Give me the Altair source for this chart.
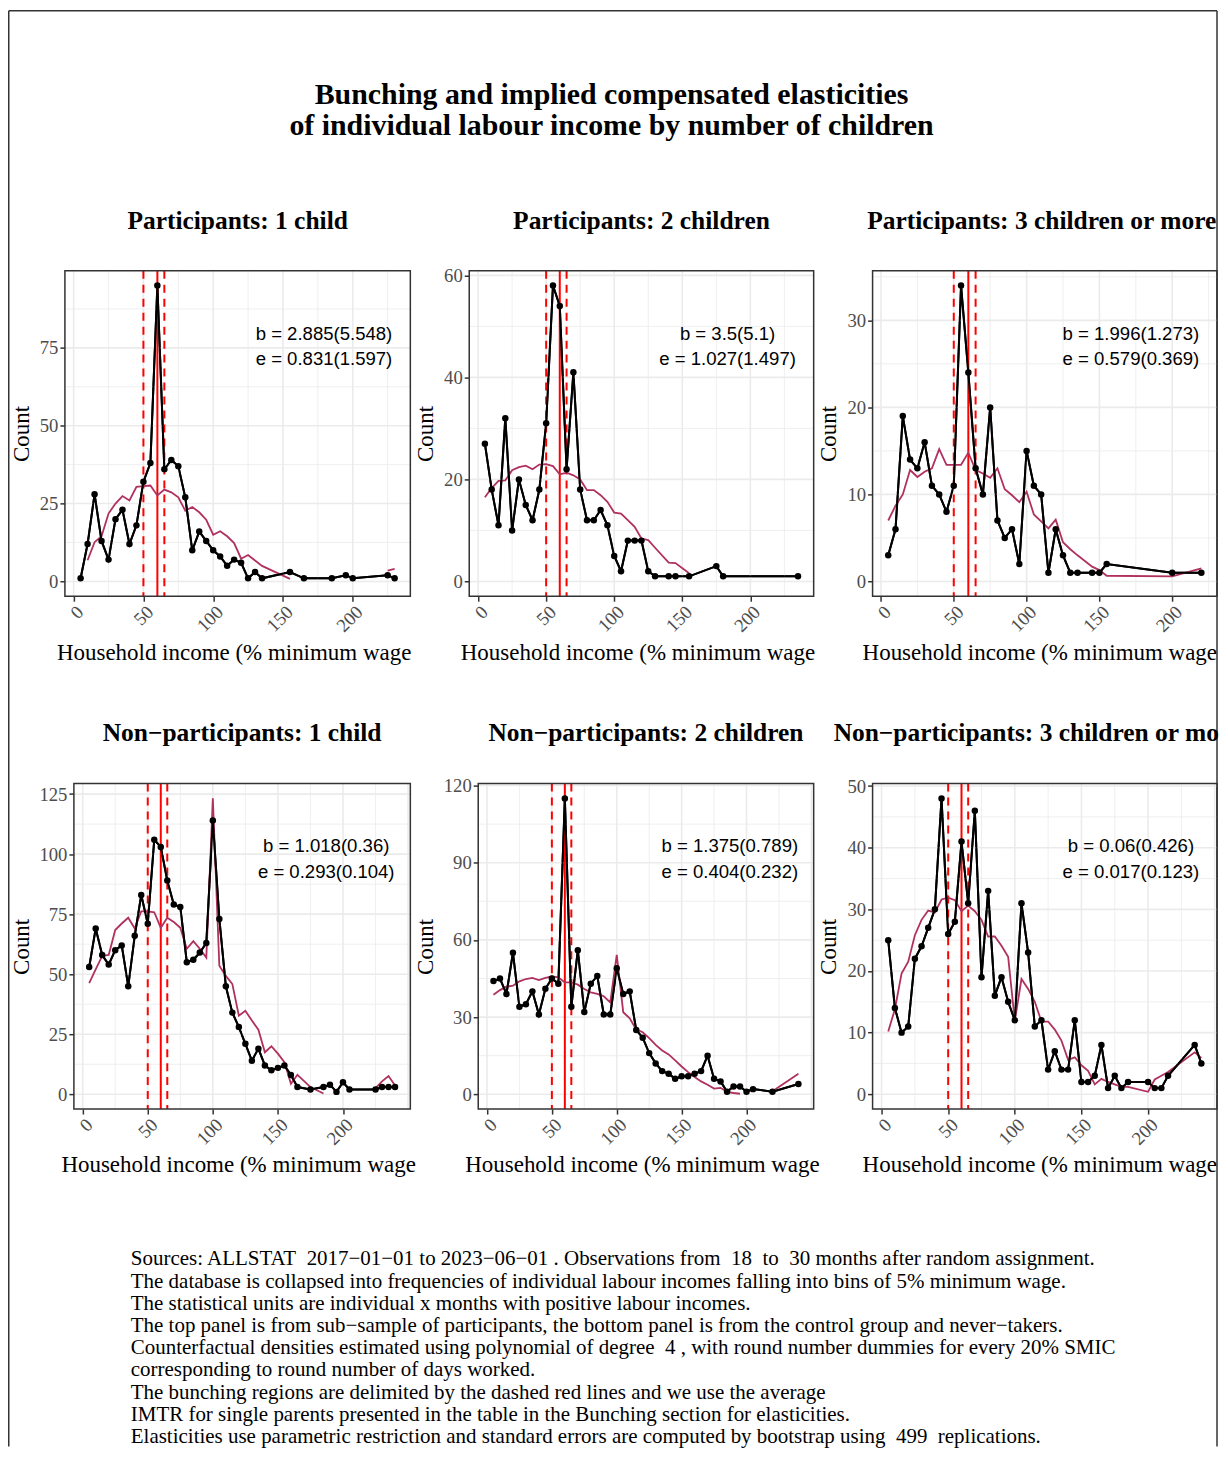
import altair as alt
import pandas as pd

SERIF = "Liberation Serif"
SANS = "Liberation Sans"

# ---------------- data ----------------
# Participants: 1 child
x1 = [5, 10, 15, 20, 25, 30, 35, 40, 45, 50, 55, 60, 65, 70, 75, 80, 85, 90, 95, 100,
      105, 110, 115, 120, 125, 130, 135, 155, 165, 185, 195, 200, 225, 230]
y1 = [1, 12, 28, 13, 7, 20, 23, 12, 18, 32, 38, 95, 36, 39, 37, 27, 10, 16, 13, 10,
      8, 5, 7, 6, 1, 3, 1, 3, 1, 1, 2, 1, 2, 1]
cf1 = [None, 6.8, 12.6, 14.5, 21.8, 25.0, 27.4, 26.0, 30.4, 30.6, 30.8, 27.6, 29.5, 28.6, 27.0, 22.7, 23.9, 22.2, 19.8, 15.0,
       16.1, 14.5, 12.3, 7.3, 8.5, 6.7, 5.0, 0.8, None, None, None, None, 3.5, 4.0]

# Participants: 2 children
x2 = [5, 10, 15, 20, 25, 30, 35, 40, 45, 50, 55, 60, 65, 70, 75, 80, 85, 90, 95, 100,
      105, 110, 115, 120, 125, 130, 140, 145, 155, 175, 180, 235]
y2 = [27, 18, 11, 32, 10, 20, 15, 12, 18, 31, 58, 54, 22, 41, 18, 12, 12, 14, 11, 5,
      2, 8, 8, 8, 2, 1, 1, 1, 1, 3, 1, 1]
cf2 = [16.5, 18.3, 19.7, 19.8, 21.8, 22.4, 22.7, 22.0, 22.9, 23.0, 22.6, 21.0, 21.3, 20.8, 20.0, 17.9, 17.9, 16.9, 15.6, 13.5,
       13.3, 12.0, 10.7, 8.4, 8.1, 6.6, 3.7, 3.6, 1.6, None, None, None]

# Participants: 3 children or more
x3 = [5, 10, 15, 20, 25, 30, 35, 40, 45, 50, 55, 60, 65, 70, 75, 80, 85, 90, 95, 100,
      105, 110, 115, 120, 125, 130, 135, 145, 150, 155, 200, 220]
y3 = [3, 6, 19, 14, 13, 16, 11, 10, 8, 11, 34, 24, 13, 10, 20, 7, 5, 6, 2, 15,
      11, 10, 1, 6, 3, 1, 1, 1, 1, 2, 1, 1]
cf3 = [7.0, 8.7, 10.0, 12.8, 12.0, 12.6, 13.0, 15.2, 13.4, 13.4, 13.4, 14.8, 12.8, 12.4, 11.9, 13.0, 10.6, 9.9, 9.1, 10.3,
       7.7, 6.9, 6.1, 7.1, 4.5, 3.7, 3.0, 1.7, 1.3, 0.65, 0.57, 1.5]

# Non-participants: 1 child
x4 = [5, 10, 15, 20, 25, 30, 35, 40, 45, 50, 55, 60, 65, 70, 75, 80, 85, 90, 95, 100,
      105, 110, 115, 120, 125, 130, 135, 140, 145, 150, 155, 160, 165, 175, 185, 190, 195, 200, 205,
      225, 230, 235, 240]
y4 = [53, 69, 58, 54, 60, 62, 45, 66, 83, 71, 106, 103, 89, 79, 78, 55, 56, 59, 63, 114,
      73, 45, 34, 28, 21, 14, 19, 12, 10, 11, 12, 8, 3, 2, 3, 4, 1, 5, 2,
      2, 3, 3, 3]
cf4 = [46.3, 52.0, 57.6, 58.0, 68.4, 71.1, 73.5, 69.0, 76.2, 76.2, 75.8, 69.3, 73.5, 71.7, 69.3, 60.6, 63.8, 60.6, 56.9, 123.2,
       53.5, 49.3, 45.9, 32.7, 34.8, 30.7, 26.9, 17.5, 20.0, 16.9, 13.4, 4.4, 8.1, 3.0, 0.3, None, None, None, None,
       2.6, 5.4, 7.6, 3.7]

# Non-participants: 2 children
x5 = [5, 10, 15, 20, 25, 30, 35, 40, 45, 50, 55, 60, 65, 70, 75, 80, 85, 90, 95, 100,
      105, 110, 115, 120, 125, 130, 135, 140, 145, 150, 155, 160, 165, 170, 175, 180, 185, 190, 195, 200,
      205, 220, 240]
y5 = [44, 45, 39, 55, 34, 35, 40, 31, 41, 45, 43, 115, 34, 56, 32, 43, 46, 31, 31, 49,
      39, 40, 25, 22, 16, 12, 9, 8, 6, 7, 7, 8, 9, 15, 6, 5, 1, 3, 3, 1,
      2, 1, 4]
cf5 = [38.7, 40.5, 41.8, 42.2, 43.9, 44.8, 45.2, 44.4, 45.2, 45.8, 45.4, 43.5, 43.5, 42.6, 40.9, 39.6, 39.0, 38.1, 35.7, 54.2,
       31.9, 29.5, 25.2, 24.1, 21.8, 19.2, 17.0, 15.5, 13.2, 10.8, 8.6, 6.7, 5.0, 3.7, 2.2, 2.5, 0.9, 0.5, 0.2, None,
       None, 1.2, 8.0]

# Non-participants: 3 children or more
x6 = [5, 10, 15, 20, 25, 30, 35, 40, 45, 50, 55, 60, 65, 70, 75, 80, 85, 90, 95, 100,
      105, 110, 115, 120, 125, 130, 135, 140, 145, 150, 155, 160, 165, 170, 175, 180, 185,
      200, 205, 210, 215, 235, 240]
y6 = [25, 14, 10, 11, 22, 24, 27, 30, 48, 26, 28, 41, 31, 46, 19, 33, 16, 19, 15, 12,
      31, 23, 11, 12, 4, 7, 4, 4, 12, 2, 2, 3, 8, 1, 3, 1, 2,
      2, 1, 1, 3, 8, 5]
cf6 = [10.2, 13.8, 19.6, 21.5, 25.8, 28.3, 29.8, 29.5, 31.6, 31.9, 31.5, 29.7, 30.6, 29.7, 28.3, 25.6, 25.6, 24.1, 22.3, 11.9,
       18.7, 17.1, 15.0, 11.8, 11.8, 10.5, 8.7, 5.6, 6.0, 4.7, 3.8, 1.6, 2.5, 2.0, 1.6, 1.2, 1.2,
       0.4, 2.4, 3.0, 3.6, 6.8, 5.9]

main_title = ["Bunching and implied compensated elasticities",
              "of individual labour income by number of children"]
titles = ["Participants: 1 child", "Participants: 2 children", "Participants: 3 children or more",
          "Non\u2212participants: 1 child", "Non\u2212participants: 2 children",
          "Non\u2212participants: 3 children or mo"]
ann_b = ["b = 2.885(5.548)", "b = 3.5(5.1)", "b = 1.996(1.273)",
         "b = 1.018(0.36)", "b = 1.375(0.789)", "b = 0.06(0.426)"]
ann_e = ["e = 0.831(1.597)", "e = 1.027(1.497)", "e = 0.579(0.369)",
         "e = 0.293(0.104)", "e = 0.404(0.232)", "e = 0.017(0.123)"]
y_major = [[0, 25, 50, 75], [0, 20, 40, 60], [0, 10, 20, 30],
           [0, 25, 50, 75, 100, 125], [0, 30, 60, 90, 120], [0, 10, 20, 30, 40, 50]]
x_major = [0, 50, 100, 150, 200, 250]
x_labels = [0, 50, 100, 150, 200]
bunch_edges = [50, 65]
kink = [60]

x_title = "Household income (% minimum wage"
y_title = "Count"

foot_lines = [
    "Sources: ALLSTAT\u00a0 2017\u221201\u221201 to 2023\u221206\u221201 . Observations from\u00a0 18\u00a0 to\u00a0 30 months after random assignment.",
    "The database is collapsed into frequencies of individual labour incomes falling into bins of 5% minimum wage.",
    "The statistical units are individual x months with positive labour incomes.",
    "The top panel is from sub\u2212sample of participants, the bottom panel is from the control group and never\u2212takers.",
    "Counterfactual densities estimated using polynomial of degree\u00a0 4 , with round number dummies for every 20% SMIC",
    "corresponding to round number of days worked.",
    "The bunching regions are delimited by the dashed red lines and we use the average",
    "\u00a0IMTR for single parents presented in the table in the Bunching section for elasticities.",
    "Elasticities use parametric restriction and standard errors are computed by bootstrap using\u00a0 499\u00a0 replications.",
]

# ---------------- layout (cell = one ggplot panel slot) ----------------
CW = 404          # cell width (3 cells = 1212 px, the page's content width)
PR = CW - 1       # plot-area right edge inside a cell
H = 326           # plot height
LEFT = [57, 58, 58, 66, 67, 58]   # plot-area left edge inside each cell
XT_SHIFT = [181.5, 181.5, 183, 181.5, 181.5, 183]
ROW_GAP = 187.7
FRAME_TOP = -260.45      # figure frame, relative to the first row's plot top
FRAME_BOTTOM = 1177.8


def midpoints(major, lo, hi):
    step = major[1] - major[0]
    cands = [major[0] - step / 2] + [v + step / 2 for v in major]
    return [v for v in cands if lo <= v <= hi]


def const_text(txt, x, y, **kw):
    return alt.Chart(pd.DataFrame({"t": [txt]})).mark_text(**kw).encode(
        text="t:N", x=alt.value(x), y=alt.value(y))


def frame_rule(**enc):
    return alt.Chart(pd.DataFrame({"a": [0]})).mark_rule(color="#333333", strokeWidth=1.5).encode(**enc)


def panel(i, xs, ys, cfs):
    L = LEFT[i]
    pw = PR - L
    cx = L + pw / 2
    xr = max(xs) - min(xs)
    xdom = [min(xs) - 0.05 * xr, max(xs) + 0.05 * xr]
    yhi = max(ys + [c for c in cfs if c is not None])
    ydom = [-0.05 * yhi, 1.05 * yhi]
    xsc = alt.Scale(domain=xdom, range=[L, PR], nice=False, zero=False)
    ysc = alt.Scale(domain=ydom, nice=False, zero=False)

    xmaj = [v for v in x_major if xdom[0] <= v <= xdom[1]]
    ymaj = y_major[i]
    xmin = midpoints(x_major, xdom[0], xdom[1])
    ymin = midpoints(ymaj, ydom[0], ydom[1])

    xaxis = alt.Axis(values=x_labels, title=x_title, labelAngle=315, labelAlign="right",
                     labelBaseline="top", labelPadding=1,
                     titleX=cx - XT_SHIFT[i], titleY=63, titleAlign="left",
                     titleBaseline="alphabetic")
    yaxis = alt.Axis(values=ymaj, title=y_title, offset=-L, titleX=21 - L, titleY=H / 2,
                     titleAngle=270, titleAlign="center", titleBaseline="alphabetic")

    def X(f):
        return alt.X(f, scale=xsc, axis=xaxis)

    def Y(f):
        return alt.Y(f, scale=ysc, axis=yaxis)

    obs = pd.DataFrame({"x": xs, "y": ys})
    rows, seg, prev_ok = [], 0, False
    for xv, cv in zip(xs, cfs):
        if cv is None:
            if prev_ok:
                seg += 1
            prev_ok = False
            continue
        rows.append({"x": xv, "y": cv, "seg": seg})
        prev_ok = True
    cf = pd.DataFrame(rows)

    obs_line = alt.Chart(obs).mark_line(color="black", strokeWidth=2).encode(x=X("x:Q"), y=Y("y:Q"))
    gx_min = alt.Chart(pd.DataFrame({"v": xmin})).mark_rule(color="#EBEBEB", strokeWidth=0.8).encode(x=X("v:Q"))
    gy_min = alt.Chart(pd.DataFrame({"v": ymin})).mark_rule(color="#EBEBEB", strokeWidth=0.8).encode(
        y=Y("v:Q"), x=alt.value(L), x2=alt.value(PR))
    gx_maj = alt.Chart(pd.DataFrame({"v": xmaj})).mark_rule(color="#EBEBEB", strokeWidth=1.6).encode(x=X("v:Q"))
    gy_maj = alt.Chart(pd.DataFrame({"v": ymaj})).mark_rule(color="#EBEBEB", strokeWidth=1.6).encode(
        y=Y("v:Q"), x=alt.value(L), x2=alt.value(PR))

    vdash = alt.Chart(pd.DataFrame({"v": bunch_edges})).mark_rule(
        color="#FF0000", strokeWidth=2, strokeDash=[8, 6]).encode(x=X("v:Q"))
    vsolid = alt.Chart(pd.DataFrame({"v": kink})).mark_rule(
        color="#FF0000", strokeWidth=2).encode(x=X("v:Q"))

    cf_line = alt.Chart(cf).mark_line(color="#B03060", strokeWidth=1.8).encode(
        x=X("x:Q"), y=Y("y:Q"), detail="seg:N")
    obs_pts = alt.Chart(obs).mark_circle(color="black", opacity=1, size=42).encode(x=X("x:Q"), y=Y("y:Q"))

    border = alt.Chart(pd.DataFrame({"a": [0]})).mark_rect(
        fillOpacity=0, stroke="#333333", strokeWidth=1.5).encode(
        x=alt.value(L), x2=alt.value(PR), y=alt.value(0), y2=alt.value(H))

    ax = L + 0.75 * pw
    t1 = const_text(ann_b[i], ax, 63, font=SANS, fontSize=18.6, align="center", baseline="middle", color="black")
    t2 = const_text(ann_e[i], ax, 88.5, font=SANS, fontSize=18.6, align="center", baseline="middle", color="black")

    if i == 5:
        ttl = const_text(titles[i], 19, -42.3, font=SERIF, fontSize=25.5, fontWeight="bold",
                         align="left", baseline="alphabetic", color="black")
    elif i == 2:
        ttl = const_text(titles[i], cx - 3, -42.3, font=SERIF, fontSize=25.5, fontWeight="bold",
                         align="center", baseline="alphabetic", color="black")
    else:
        ttl = const_text(titles[i], cx, -42.3, font=SERIF, fontSize=25.5, fontWeight="bold",
                         align="center", baseline="alphabetic", color="black")

    layers = [obs_line, gx_min, gy_min, gx_maj, gy_maj, vdash, vsolid, cf_line, obs_line, obs_pts,
              border, t1, t2, ttl]

    if i == 0:  # figure frame (left, top, right edges of the page box)
        right = 2 * CW + PR
        layers.append(frame_rule(x=alt.value(0.75), y=alt.value(FRAME_TOP), y2=alt.value(FRAME_BOTTOM)))
        layers.append(frame_rule(x=alt.value(0.75), x2=alt.value(right), y=alt.value(FRAME_TOP)))
        layers.append(frame_rule(x=alt.value(right), y=alt.value(FRAME_TOP), y2=alt.value(FRAME_BOTTOM)))
    if i == 1:  # overall title, centred on the figure
        for k, line in enumerate(main_title):
            layers.append(const_text(line, 612.5 - (8 + CW), -167.3 + 31.6 * k, font=SERIF, fontSize=29.9,
                                     fontWeight="bold", align="center", baseline="alphabetic", color="black"))
    if i == 3:  # footnote under the figure
        for k, line in enumerate(foot_lines):
            layers.append(const_text(line, 123, 476.6 + 22.25 * k, font=SERIF, fontSize=21,
                                     align="left", baseline="middle", color="black"))

    return alt.layer(*layers).properties(width=CW, height=H)


panels = [panel(0, x1, y1, cf1), panel(1, x2, y2, cf2), panel(2, x3, y3, cf3),
          panel(3, x4, y4, cf4), panel(4, x5, y5, cf5), panel(5, x6, y6, cf6)]

chart = alt.concat(*panels, columns=3, spacing=alt.RowColnumber(row=ROW_GAP, column=0),
                   bounds="flush").properties(
    padding={"left": 0, "top": 0, "right": 0, "bottom": 0},
    background="white",
).configure_view(stroke="transparent", strokeWidth=0).configure_axis(
    domain=False, grid=False, tickColor="#333333", tickSize=5, tickWidth=1.5,
    labelColor="#4D4D4D", labelFont=SERIF, labelFontSize=18.7,
    titleFont=SERIF, titleFontSize=23, titleFontWeight="normal", titleColor="black"
)

chart.save("out.html", embed_options={"renderer": "svg", "actions": False})
